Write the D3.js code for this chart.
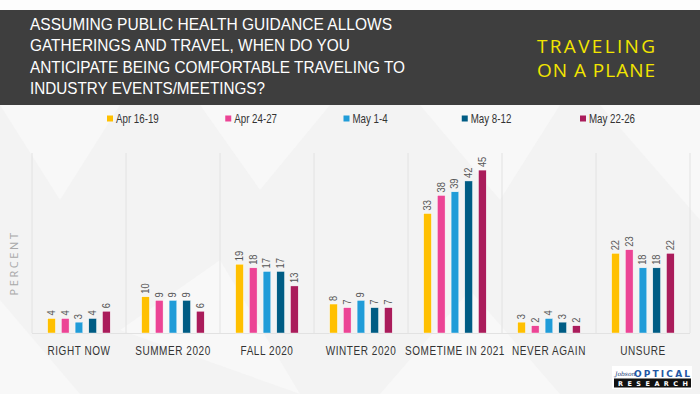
<!DOCTYPE html>
<html><head><meta charset="utf-8">
<script src="https://cdn.jsdelivr.net/npm/d3@7/dist/d3.min.js"></script>
<style>
html,body{margin:0;padding:0;background:#f3f3f3;}
svg{display:block;}
</style></head>
<body>
<svg id="chart" width="700" height="394"></svg>
<script>
const categories = ["RIGHT NOW","SUMMER 2020","FALL 2020","WINTER 2020","SOMETIME IN 2021","NEVER AGAIN","UNSURE"];
const seriesNames = ["Apr 16-19","Apr 24-27","May 1-4","May 8-12","May 22-26"];
const seriesColors = ["#FFC000","#EC4495","#209CD8","#005C84","#AA1C5B"];
const aprA = [4,10,19,8,33,3,22];
const aprB = [4,9,18,7,38,2,23];
const mayA = [3,9,17,9,39,4,18];
const mayB = [4,9,17,7,42,3,18];
const mayC = [6,6,13,7,45,2,22];
const seriesValues = [aprA,aprB,mayA,mayB,mayC];
const titleLines = ["ASSUMING PUBLIC HEALTH GUIDANCE ALLOWS","GATHERINGS AND TRAVEL, WHEN DO YOU","ANTICIPATE BEING COMFORTABLE TRAVELING TO","INDUSTRY EVENTS/MEETINGS?"];
const sideTitle = ["TRAVELING","ON A PLANE"];
const yLabel = "PERCENT";

const svg = d3.select("#chart");
const W = 700, H = 394;
const narrow = "'Liberation Sans',Arial,sans-serif";

// background
svg.append("rect").attr("width",W).attr("height",H).attr("fill","#f3f3f3");
const bgPolys = [
  [[0,105],[120,105],[60,200]],[[200,105],[330,105],[260,190]],[[420,105],[560,105],[500,200]],
  [[120,330],[220,260],[300,394]],[[380,394],[470,290],[560,394]],[[600,105],[700,105],[700,220]],
  [[0,300],[80,394],[0,394]]
];
svg.append("g").selectAll("polygon").data(bgPolys).join("polygon")
  .attr("points",d=>d.map(p=>p.join(",")).join(" ")).attr("fill","#fafafa").attr("opacity",0.7);
svg.append("rect").attr("width",W).attr("height",10).attr("fill","#fdfdfd");

// header
svg.append("rect").attr("x",0).attr("y",10).attr("width",W).attr("height",95).attr("fill","#3e3e3e");
const titleW = [362,320,375,235];
svg.append("g").selectAll("text").data(titleLines).join("text")
  .attr("x",30).attr("y",(d,i)=>29.5+i*21.6)
  .attr("font-family",narrow)
  .attr("font-size",16.5).attr("fill","#ffffff")
  .attr("textLength",(d,i)=>titleW[i]).attr("lengthAdjust","spacingAndGlyphs")
  .text(d=>d);
svg.append("g").selectAll("text").data(sideTitle).join("text")
  .attr("x",537).attr("y",(d,i)=>53+i*24)
  .attr("font-family","'Open Sans',sans-serif").attr("font-size",19)
  .attr("fill","#F2E500")
  .attr("textLength",118).attr("lengthAdjust","spacing")
  .text(d=>d);

// scales
const baseY = 333, topY = 152;
const x0 = d3.scaleBand().domain(categories).range([32,690]).padding(0);
const x1 = d3.scaleBand().domain(seriesNames).range([15.7,78.2]).paddingInner(0.44).paddingOuter(0);
const y = d3.scaleLinear().domain([0,50]).range([baseY,topY]);
const color = d3.scaleOrdinal().domain(seriesNames).range(seriesColors);

// grid
const bounds = categories.map(c=>x0(c)).concat([x0.range()[1]]);
svg.append("g").selectAll("line").data(bounds).join("line")
  .attr("x1",d=>d).attr("x2",d=>d).attr("y1",153).attr("y2",baseY)
  .attr("stroke","#e2e2e2").attr("stroke-width",1);
svg.append("line").attr("x1",32).attr("x2",690).attr("y1",baseY+0.5).attr("y2",baseY+0.5)
  .attr("stroke","#e2e2e2");

// legend
const lx = d3.scalePoint().domain(seriesNames).range([107,580]);
const leg = svg.append("g").selectAll("g").data(seriesNames).join("g")
  .attr("transform",d=>`translate(${lx(d)},0)`);
leg.append("rect").attr("x",0).attr("y",115.5).attr("width",6).attr("height",6).attr("fill",d=>color(d));
leg.append("text").attr("transform","translate(9,123) scale(0.78,1)")
  .attr("font-family",narrow).attr("font-size",12.5)
  .attr("fill","#333").text(d=>d);

// bars
const flat = [];
categories.forEach((c,ci)=>seriesNames.forEach((s,si)=>flat.push({c,s,v:seriesValues[si][ci]})));
const bars = svg.append("g");
bars.selectAll("rect").data(flat).join("rect")
  .attr("x",d=>x0(d.c)+x1(d.s)).attr("width",x1.bandwidth())
  .attr("y",d=>y(d.v)).attr("height",d=>baseY-y(d.v))
  .attr("fill",d=>color(d.s)).attr("stroke","#ffffff").attr("stroke-width",0.4);
bars.selectAll("text").data(flat).join("text")
  .attr("transform",d=>`translate(${x0(d.c)+x1(d.s)+x1.bandwidth()/2+3.5},${y(d.v)-3}) rotate(-90) scale(0.85,1)`)
  .attr("text-anchor","start")
  .attr("font-family",narrow).attr("font-size",11)
  .attr("fill","#555").text(d=>d.v);

// category labels
svg.append("g").selectAll("text").data(categories).join("text")
  .attr("transform",d=>`translate(${x0(d)+x0.bandwidth()/2},355) scale(0.8,1)`)
  .attr("text-anchor","middle")
  .attr("font-family",narrow).attr("font-size",12.5)
  .attr("letter-spacing",0.7).attr("fill","#333").text(d=>d);

// y label
svg.append("text").attr("transform","translate(18,263) rotate(-90)")
  .attr("text-anchor","middle")
  .attr("font-family","'Open Sans',sans-serif").attr("font-size",11)
  .attr("letter-spacing",2.6).attr("fill","#a8a8a8").text(yLabel);

// logo
const logo = svg.append("g");
logo.append("rect").attr("x",612).attr("y",366).attr("width",80).attr("height",23).attr("fill","#ffffff");
logo.append("text").attr("x",615).attr("y",376).attr("font-family","'DejaVu Serif',serif")
  .attr("font-style","italic").attr("font-size",6).attr("fill","#1d3f7a").text("Jobson");
logo.append("text").attr("x",634).attr("y",376.5).attr("font-family","'DejaVu Sans',sans-serif")
  .attr("font-weight","bold").attr("font-size",9).attr("fill","#2457a4")
  .attr("textLength",56).attr("lengthAdjust","spacing").text("OPTICAL");
logo.append("rect").attr("x",614).attr("y",378.5).attr("width",77).attr("height",9).attr("fill","#111");
logo.append("text").attr("x",618).attr("y",386).attr("font-family","'DejaVu Sans',sans-serif")
  .attr("font-weight","bold").attr("font-size",6.5).attr("fill","#ffffff")
  .attr("textLength",70).attr("lengthAdjust","spacing").text("RESEARCH");
</script>
</body></html>
